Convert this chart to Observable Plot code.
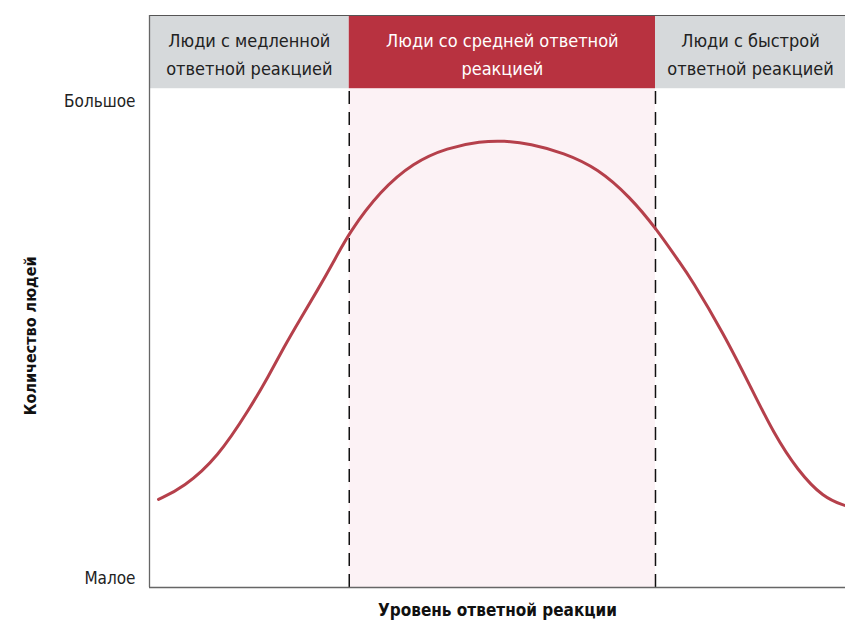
<!DOCTYPE html>
<html>
<head>
<meta charset="utf-8">
<script src="https://cdn.jsdelivr.net/npm/d3@7"></script>
<script src="https://cdn.jsdelivr.net/npm/@observablehq/plot@0.6"></script>
<style>
  html, body { margin: 0; padding: 0; background: #fff; }
  #chart svg { display: block; }
</style>
</head>
<body>
<div id="chart"></div>
<script>
// Curve (x: response level 0–100, y: number of people 0–100)
const curveX = [1.3, 4.9, 9.8, 14.5, 17.0, 19.3, 21.7, 24.1, 26.4, 28.7, 33.2, 37.9, 42.8, 47.6, 50.9, 54.7, 59.5, 64.4, 69.1, 72.7, 76.3, 77.7, 82.5, 86.4, 89.7, 93.1, 96.8, 100];
const curveY = [15.4, 17.5, 22.7, 31.5, 36.7, 42.0, 47.0, 51.9, 56.8, 62.1, 69.4, 74.3, 76.9, 78.0, 78.1, 77.6, 76.0, 73.3, 68.2, 62.9, 56.6, 54.2, 44.4, 35.0, 26.9, 20.5, 15.7, 14.3];

// Three response groups
const groupNames = ["Люди с медленной\nответной реакцией", "Люди со средней ответной\nреакцией", "Люди с быстрой\nответной реакцией"];
const groupStart = [0, 28.7, 72.7];
const groupEnd = [28.7, 72.7, 100];

// Y tick labels
const yTickValues = [85, 1.6];
const yTickLabels = ["Большое", "Малое"];

const xTitle = "Уровень ответной реакции";
const yTitle = "Количество людей";

const headerBottom = 87.2;
const curve = curveX.map((x, i) => ({x, y: curveY[i]}));
const groups = groupNames.map((name, i) => ({name, x1: groupStart[i], x2: groupEnd[i], mid: (groupStart[i] + groupEnd[i]) / 2, i}));
const ticks = yTickValues.map((y, i) => ({y, label: yTickLabels[i]}));

const FONT = "'Liberation Sans Narrow', 'DejaVu Sans Condensed', 'Roboto', sans-serif";

const chart = Plot.plot({
  width: 845,
  height: 621,
  marginLeft: 149,
  marginRight: 0,
  marginTop: 15,
  marginBottom: 34,
  x: {domain: [0, 100], axis: null},
  y: {domain: [0, 100], axis: null},
  style: {fontFamily: FONT, background: "#fff", overflow: "visible"},
  marks: [
    // light pink background for middle group
    Plot.rect([groups[1]], {x1: "x1", x2: "x2", y1: 0, y2: headerBottom, fill: "#fcf2f5"}),
    // header bands
    Plot.rect(groups, {x1: "x1", x2: "x2", y1: headerBottom, y2: 100, fill: d => d.i === 1 ? "#b83240" : "#d6d9db"}),
    Plot.ruleY([100], {stroke: "#555", strokeWidth: 1}),
    Plot.text(groups, {x: "mid", y: (headerBottom + 100) / 2, text: "name", fill: d => d.i === 1 ? "#fff" : "#222", fontSize: 18, lineHeight: 1.55}),
    // dashed boundaries
    Plot.ruleX([groupStart[1], groupStart[2]], {y1: 0, y2: headerBottom, stroke: "#111", strokeWidth: 1.5, strokeDasharray: "13,8"}),
    // axes frame
    Plot.ruleX([0], {y1: 0, y2: 100, stroke: "#666", strokeWidth: 1.3}),
    Plot.ruleY([0], {x1: 0, x2: 100, stroke: "#666", strokeWidth: 1.3}),
    // curve
    Plot.line(curve, {x: "x", y: "y", curve: "basis", stroke: "#b5404b", strokeWidth: 3}),
    // y tick labels
    Plot.text(ticks, {x: 0, y: "y", text: "label", textAnchor: "end", dx: -14, fontSize: 17, fill: "#222"}),
    // axis titles
    Plot.text([yTitle], {x: 0, y: 44, dx: -119, rotate: -90, fontWeight: "bold", fontSize: 16, fill: "#111"}),
    Plot.text([xTitle], {x: 50, y: 0, dy: 23, fontWeight: "bold", fontSize: 17, fill: "#111"})
  ]
});
document.getElementById("chart").appendChild(chart);
</script>
</body>
</html>
